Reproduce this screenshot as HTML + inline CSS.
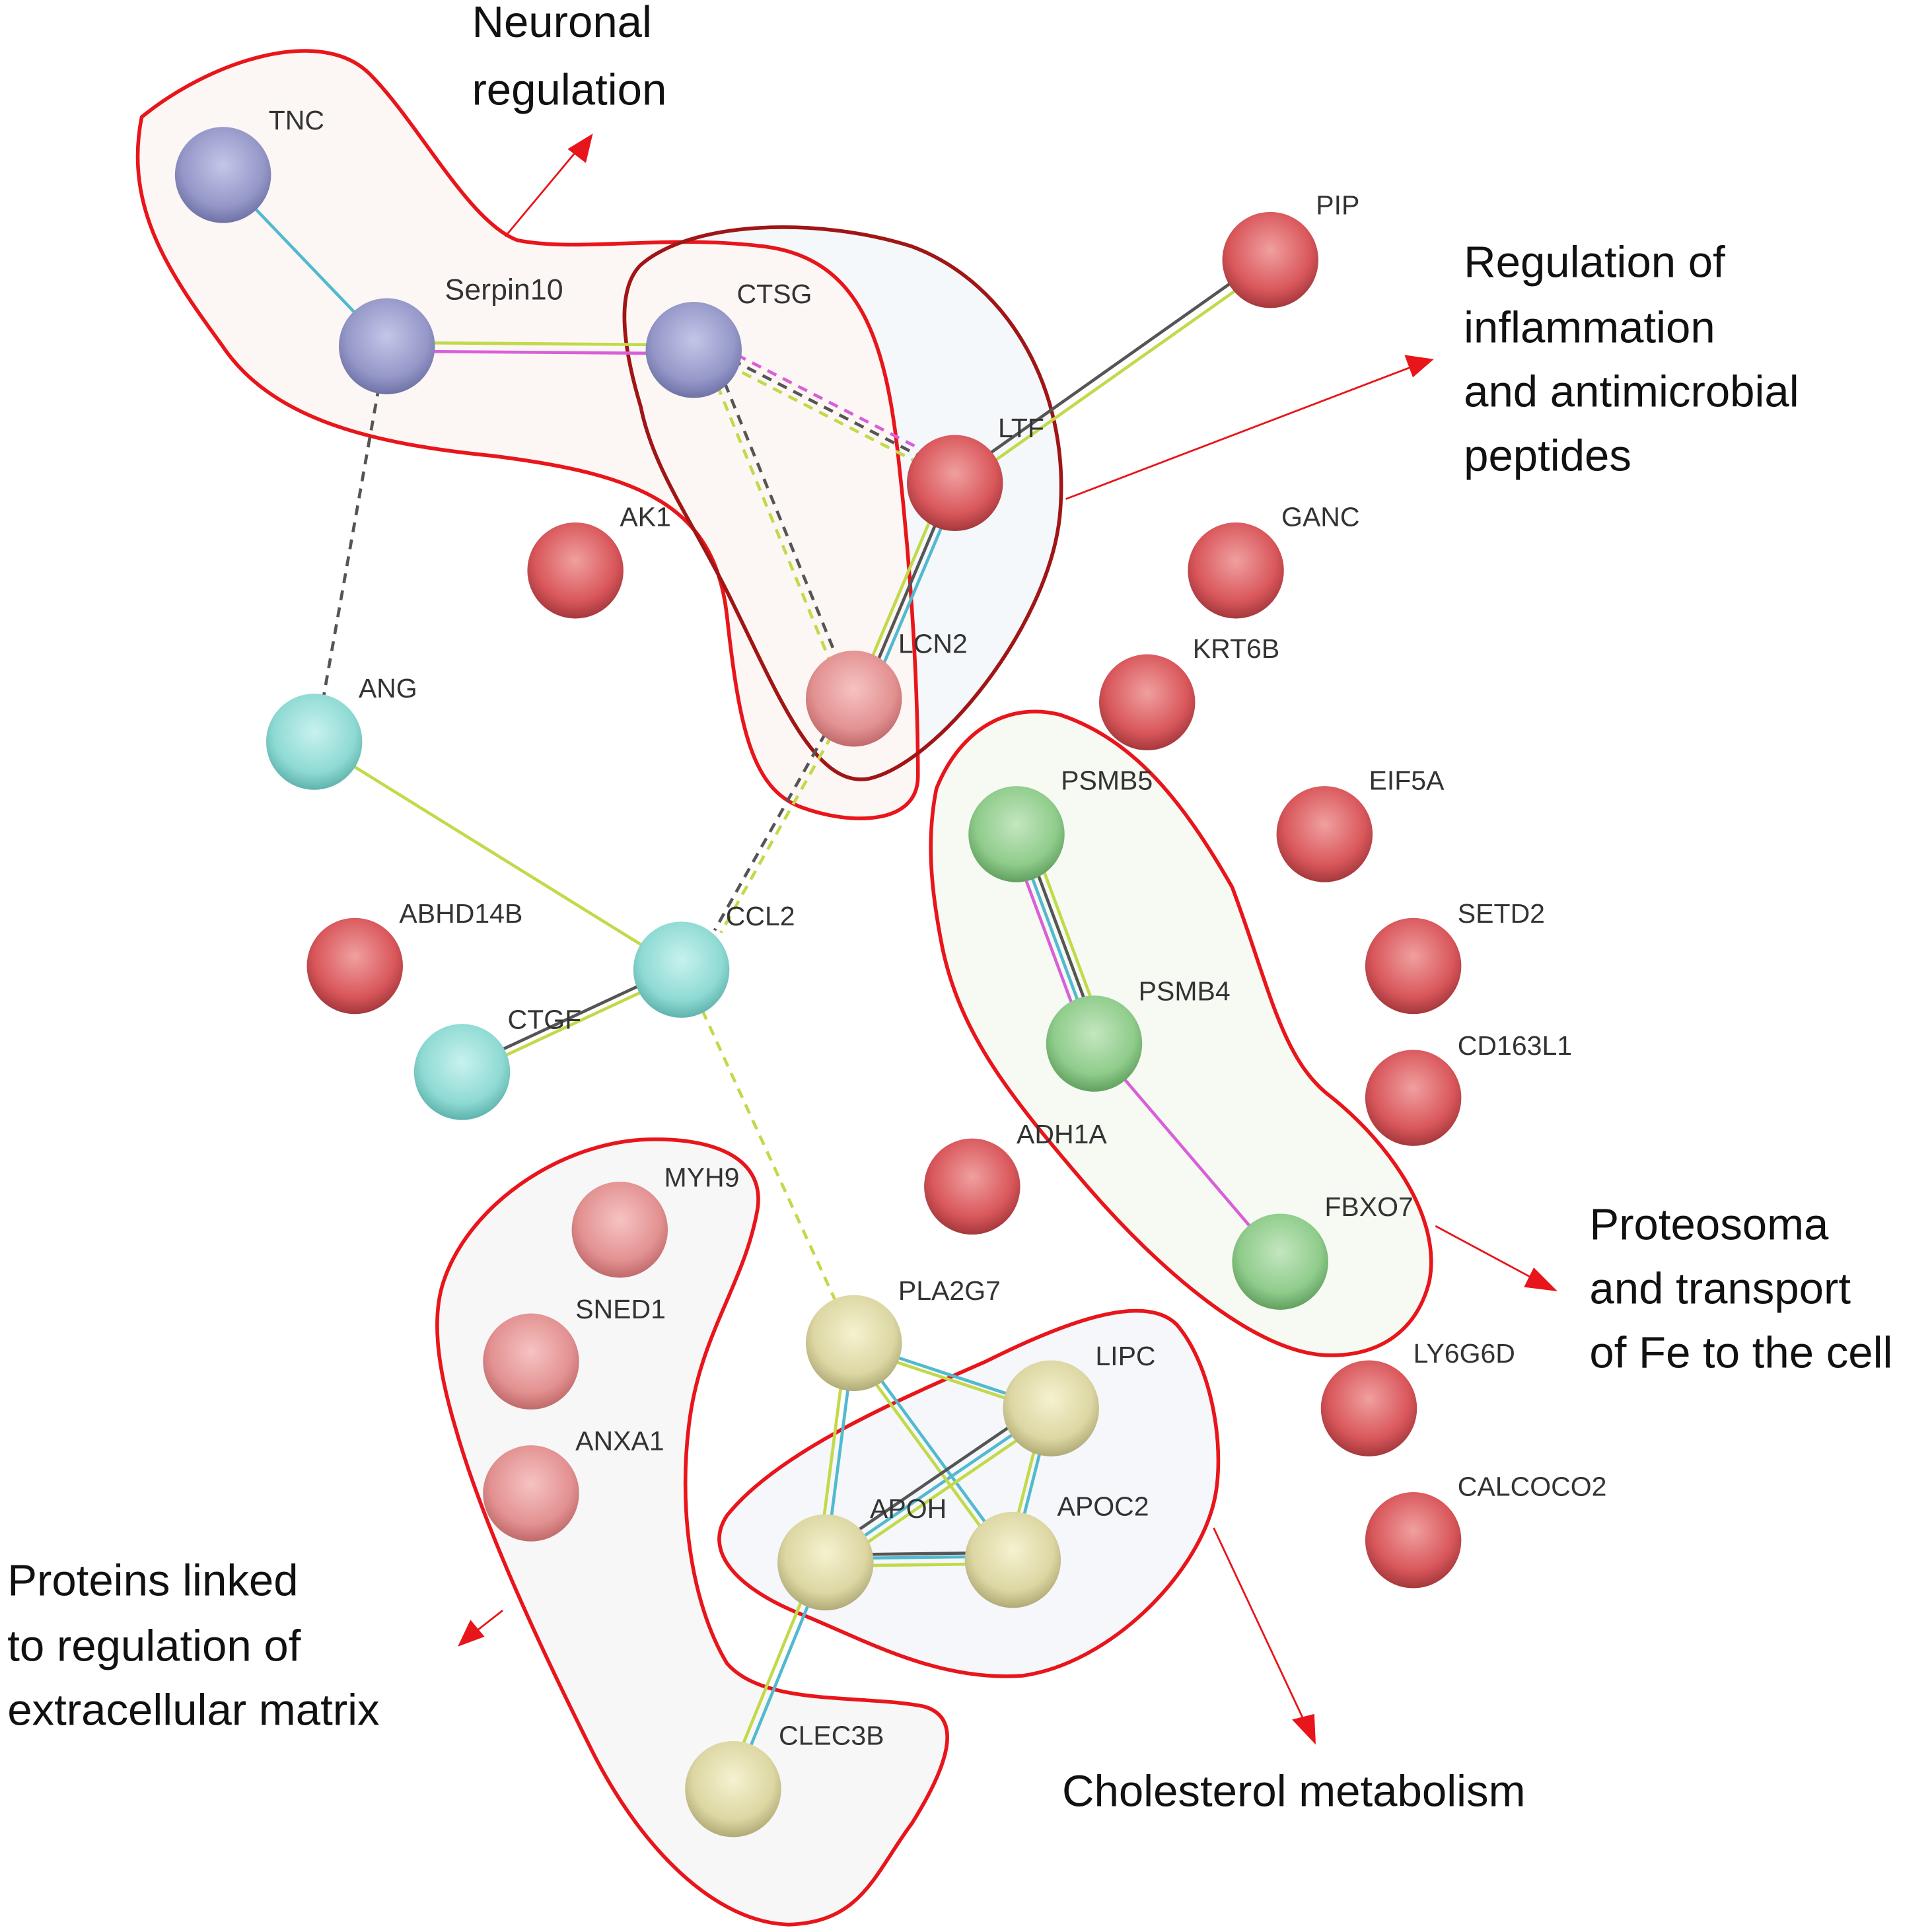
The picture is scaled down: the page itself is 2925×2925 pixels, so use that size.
<!DOCTYPE html>
<html><head><meta charset="utf-8"><style>
html,body{margin:0;padding:0;background:#fff;}
svg{display:block;}
text{font-family:"Liberation Sans",Arial,sans-serif;}
.l{font-size:22px;fill:#333;}
.b{font-size:36px;fill:#111;}
</style></head><body>
<svg width="2925" height="2925" viewBox="0 0 1568 1568" preserveAspectRatio="none" xmlns="http://www.w3.org/2000/svg">
<defs>
<radialGradient id="gb" cx="50%" cy="40%" r="60%"><stop offset="0" stop-color="#c4c6e8"/><stop offset="0.7" stop-color="#9598c8"/><stop offset="1" stop-color="#6f72a6"/></radialGradient>
<radialGradient id="gr" cx="50%" cy="40%" r="60%"><stop offset="0" stop-color="#f0a0a0"/><stop offset="0.7" stop-color="#d9575b"/><stop offset="1" stop-color="#a4383c"/></radialGradient>
<radialGradient id="gp" cx="50%" cy="40%" r="60%"><stop offset="0" stop-color="#f6c3c3"/><stop offset="0.7" stop-color="#e39191"/><stop offset="1" stop-color="#c06a6a"/></radialGradient>
<radialGradient id="gc" cx="50%" cy="40%" r="60%"><stop offset="0" stop-color="#c8f2ee"/><stop offset="0.7" stop-color="#8fdad4"/><stop offset="1" stop-color="#5fb3ad"/></radialGradient>
<radialGradient id="gg" cx="50%" cy="40%" r="60%"><stop offset="0" stop-color="#c4e6c0"/><stop offset="0.7" stop-color="#8fcc8b"/><stop offset="1" stop-color="#62a05f"/></radialGradient>
<radialGradient id="gy" cx="50%" cy="40%" r="60%"><stop offset="0" stop-color="#f5f2d0"/><stop offset="0.7" stop-color="#dcd7a3"/><stop offset="1" stop-color="#b0aa76"/></radialGradient>
</defs>

<!-- group outlines -->
<path id="dk" d="M520,215 C560,180 660,175 740,200 C820,230 870,320 860,420 C850,510 760,620 705,632 C660,640 630,560 590,480 C560,420 530,380 520,330 C505,280 500,235 520,215Z" fill="#f5f8fb" stroke="none"/>
<path d="M115,95 C170,50 260,20 300,60 C340,100 380,180 420,195 C470,205 540,190 620,200 C700,210 720,280 730,380 C740,470 745,560 745,630 C745,670 690,670 650,655 C610,640 600,590 590,500 C580,410 520,385 400,370 C300,360 220,340 180,280 C140,225 100,170 115,95Z" fill="#fcf7f4" stroke="#e8151b" stroke-width="3"/>
<path d="M520,215 C560,180 660,175 740,200 C820,230 870,320 860,420 C850,510 760,620 705,632 C660,640 630,560 590,480 C560,420 530,380 520,330 C505,280 500,235 520,215Z" fill="none" stroke="#a01515" stroke-width="3"/>
<path d="M760,640 C780,590 820,570 860,580 C920,600 960,650 1000,720 C1030,800 1040,860 1080,890 C1130,930 1170,990 1160,1040 C1150,1080 1120,1100 1080,1100 C1020,1100 940,1030 880,960 C820,890 780,840 765,770 C755,720 752,680 760,640Z" fill="#f6faf3" stroke="#e8151b" stroke-width="3"/>
<path d="M590,1230 C630,1180 720,1140 800,1105 C870,1070 930,1050 955,1075 C985,1110 995,1180 985,1220 C970,1280 900,1350 830,1360 C760,1365 700,1330 650,1310 C600,1290 570,1260 590,1230Z" fill="#f5f7fa" stroke="#e8151b" stroke-width="3"/>
<path d="M360,1040 C380,980 450,930 520,925 C580,922 620,940 615,980 C605,1040 570,1080 560,1150 C550,1220 560,1300 590,1350 C620,1385 700,1375 750,1385 C785,1395 765,1440 740,1480 C710,1520 700,1560 640,1562 C580,1560 520,1500 480,1420 C430,1320 390,1230 370,1160 C355,1110 350,1070 360,1040Z" fill="#f7f7f8" stroke="#e8151b" stroke-width="3"/>

<!-- edges -->
<g fill="none" stroke-width="2.5">
<line x1="181" y1="142" x2="314" y2="281" stroke="#52b9cf"/>
<line x1="314" y1="278" x2="563" y2="280" stroke="#c2d94a"/>
<line x1="314" y1="285" x2="563" y2="287" stroke="#d95fd9"/>
<line x1="310" y1="300" x2="260" y2="580" stroke="#555" stroke-dasharray="8,6"/>
<line x1="590" y1="296" x2="750" y2="378" stroke="#c2d94a" stroke-dasharray="8,6"/>
<line x1="594" y1="292" x2="754" y2="374" stroke="#555" stroke-dasharray="8,6"/>
<line x1="598" y1="288" x2="758" y2="370" stroke="#d95fd9" stroke-dasharray="8,6"/>
<line x1="577" y1="300" x2="677" y2="545" stroke="#c2d94a" stroke-dasharray="8,6"/>
<line x1="583" y1="298" x2="683" y2="543" stroke="#555" stroke-dasharray="8,6"/>
<line x1="1031" y1="207" x2="775" y2="388" stroke="#555"/>
<line x1="1035" y1="213" x2="779" y2="394" stroke="#c2d94a"/>
<line x1="760" y1="410" x2="705" y2="540" stroke="#c2d94a"/>
<line x1="765" y1="412" x2="710" y2="542" stroke="#555"/>
<line x1="770" y1="414" x2="715" y2="544" stroke="#52b9cf"/>
<line x1="670" y1="595" x2="580" y2="755" stroke="#555" stroke-dasharray="8,6"/>
<line x1="675" y1="597" x2="585" y2="757" stroke="#c2d94a" stroke-dasharray="8,6"/>
<line x1="255" y1="602" x2="553" y2="787" stroke="#c2d94a"/>
<line x1="553" y1="784" x2="375" y2="867" stroke="#555"/>
<line x1="553" y1="790" x2="375" y2="873" stroke="#c2d94a"/>
<line x1="570" y1="820" x2="680" y2="1060" stroke="#c2d94a" stroke-dasharray="8,6"/>
<line x1="820" y1="680" x2="883" y2="850" stroke="#d95fd9"/>
<line x1="825" y1="678" x2="888" y2="848" stroke="#52b9cf"/>
<line x1="830" y1="676" x2="893" y2="846" stroke="#555"/>
<line x1="835" y1="674" x2="898" y2="844" stroke="#c2d94a"/>
<line x1="888" y1="847" x2="1039" y2="1024" stroke="#d95fd9"/>
<g stroke="#52b9cf"><line x1="693" y1="1090" x2="853" y2="1143"/><line x1="693" y1="1090" x2="822" y2="1266"/><line x1="693" y1="1090" x2="670" y2="1268"/><line x1="670" y1="1268" x2="853" y2="1143"/><line x1="822" y1="1266" x2="853" y2="1143"/><line x1="670" y1="1265" x2="822" y2="1263"/><line x1="670" y1="1268" x2="595" y2="1452"/></g>
<g stroke="#c2d94a"><line x1="696" y1="1095" x2="856" y2="1148"/><line x1="688" y1="1092" x2="817" y2="1268"/><line x1="687" y1="1090" x2="664" y2="1268"/><line x1="673" y1="1273" x2="856" y2="1148"/><line x1="817" y1="1266" x2="848" y2="1143"/><line x1="670" y1="1271" x2="822" y2="1269"/><line x1="664" y1="1266" x2="589" y2="1450"/></g>
<line x1="667" y1="1262" x2="850" y2="1137" stroke="#555"/>
<line x1="670" y1="1262" x2="822" y2="1260" stroke="#555"/>
</g>

<!-- nodes -->
<g stroke="none">
<circle cx="181" cy="142" r="39" fill="url(#gb)"/>
<circle cx="314" cy="281" r="39" fill="url(#gb)"/>
<circle cx="563" cy="284" r="39" fill="url(#gb)"/>
<circle cx="1031" cy="211" r="39" fill="url(#gr)"/>
<circle cx="775" cy="392" r="39" fill="url(#gr)"/>
<circle cx="467" cy="463" r="39" fill="url(#gr)"/>
<circle cx="1003" cy="463" r="39" fill="url(#gr)"/>
<circle cx="693" cy="567" r="39" fill="url(#gp)"/>
<circle cx="931" cy="570" r="39" fill="url(#gr)"/>
<circle cx="255" cy="602" r="39" fill="url(#gc)"/>
<circle cx="825" cy="677" r="39" fill="url(#gg)"/>
<circle cx="1075" cy="677" r="39" fill="url(#gr)"/>
<circle cx="288" cy="784" r="39" fill="url(#gr)"/>
<circle cx="553" cy="787" r="39" fill="url(#gc)"/>
<circle cx="1147" cy="784" r="39" fill="url(#gr)"/>
<circle cx="375" cy="870" r="39" fill="url(#gc)"/>
<circle cx="888" cy="847" r="39" fill="url(#gg)"/>
<circle cx="1147" cy="891" r="39" fill="url(#gr)"/>
<circle cx="789" cy="963" r="39" fill="url(#gr)"/>
<circle cx="1039" cy="1024" r="39" fill="url(#gg)"/>
<circle cx="503" cy="998" r="39" fill="url(#gp)"/>
<circle cx="431" cy="1105" r="39" fill="url(#gp)"/>
<circle cx="693" cy="1090" r="39" fill="url(#gy)"/>
<circle cx="853" cy="1143" r="39" fill="url(#gy)"/>
<circle cx="1111" cy="1143" r="39" fill="url(#gr)"/>
<circle cx="431" cy="1212" r="39" fill="url(#gp)"/>
<circle cx="670" cy="1268" r="39" fill="url(#gy)"/>
<circle cx="822" cy="1266" r="39" fill="url(#gy)"/>
<circle cx="1147" cy="1250" r="39" fill="url(#gr)"/>
<circle cx="595" cy="1452" r="39" fill="url(#gy)"/>
</g>

<!-- labels -->
<text class="l" x="218" y="105">TNC</text>
<text class="l" x="361" y="243" fill="#111" style="font-size:24px">Serpin10</text>
<text class="l" x="598" y="246">CTSG</text>
<text class="l" x="1068" y="174">PIP</text>
<text class="l" x="810" y="355">LTF</text>
<text class="l" x="503" y="427">AK1</text>
<text class="l" x="1040" y="427">GANC</text>
<text class="l" x="729" y="530">LCN2</text>
<text class="l" x="968" y="534">KRT6B</text>
<text class="l" x="291" y="566">ANG</text>
<text class="l" x="861" y="641">PSMB5</text>
<text class="l" x="1111" y="641">EIF5A</text>
<text class="l" x="324" y="749">ABHD14B</text>
<text class="l" x="589" y="751">CCL2</text>
<text class="l" x="1183" y="749">SETD2</text>
<text class="l" x="412" y="835">CTGF</text>
<text class="l" x="924" y="812">PSMB4</text>
<text class="l" x="1183" y="856">CD163L1</text>
<text class="l" x="825" y="928">ADH1A</text>
<text class="l" x="1075" y="987">FBXO7</text>
<text class="l" x="539" y="963">MYH9</text>
<text class="l" x="467" y="1070">SNED1</text>
<text class="l" x="729" y="1055">PLA2G7</text>
<text class="l" x="889" y="1108">LIPC</text>
<text class="l" x="1147" y="1106">LY6G6D</text>
<text class="l" x="467" y="1177">ANXA1</text>
<text class="l" x="706" y="1232">APOH</text>
<text class="l" x="858" y="1230">APOC2</text>
<text class="l" x="1183" y="1214">CALCOCO2</text>
<text class="l" x="632" y="1416">CLEC3B</text>

<!-- annotations -->
<g stroke="#e8151b" stroke-width="1.5" fill="#e8151b">
<line x1="410" y1="192" x2="470" y2="120"/><path d="M480,110 L462,121 L475,131z"/>
<line x1="865" y1="405" x2="1145" y2="298"/><path d="M1162,292 L1141,289 L1147,305z"/>
<line x1="1165" y1="995" x2="1245" y2="1038"/><path d="M1262,1047 L1245,1030 L1238,1044z"/>
<line x1="985" y1="1240" x2="1060" y2="1400"/><path d="M1067,1414 L1050,1396 L1066,1392z"/>
<line x1="408" y1="1307" x2="385" y2="1325"/><path d="M373,1335 L382,1316 L392,1328z"/>
</g>
<text class="b" x="383" y="30">Neuronal</text>
<text class="b" x="383" y="85">regulation</text>
<text class="b" x="1188" y="225">Regulation of</text>
<text class="b" x="1188" y="278">inflammation</text>
<text class="b" x="1188" y="330">and antimicrobial</text>
<text class="b" x="1188" y="382">peptides</text>
<text class="b" x="1290" y="1006">Proteosoma</text>
<text class="b" x="1290" y="1058">and transport</text>
<text class="b" x="1290" y="1110">of Fe to the cell</text>
<text class="b" x="6" y="1295">Proteins linked</text>
<text class="b" x="6" y="1348">to regulation of</text>
<text class="b" x="6" y="1400">extracellular matrix</text>
<text class="b" x="862" y="1466">Cholesterol metabolism</text>
</svg>
</body></html>
